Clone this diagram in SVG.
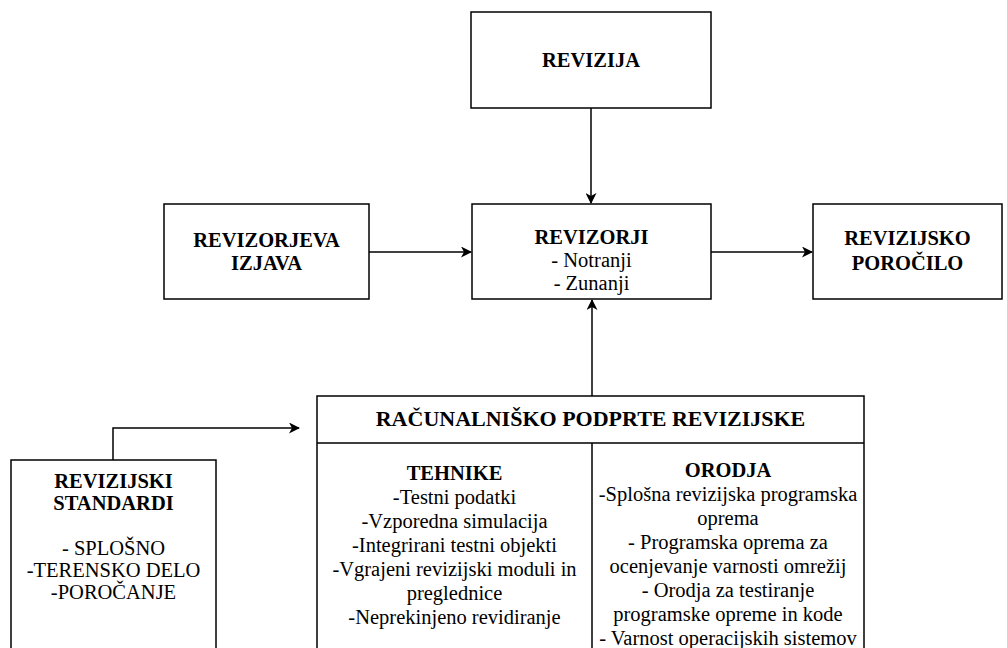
<svg xmlns="http://www.w3.org/2000/svg" width="1007" height="648" viewBox="0 0 1007 648" font-family="Liberation Serif, DejaVu Serif, serif">
<defs>
<style>
.box{fill:#fff;stroke:#000;stroke-width:1.5}
.ln{fill:none;stroke:#000;stroke-width:1.5}
text{font-family:"Liberation Serif","DejaVu Serif",serif;font-size:20.5px;fill:#000;text-anchor:middle}
.b{font-weight:bold}
.h{font-size:22px}
</style>
<marker id="ah" markerWidth="11" markerHeight="11" refX="10" refY="5.5" orient="auto" markerUnits="userSpaceOnUse">
<path d="M0,0 L11,5.5 L0,11 L3,5.5 Z" fill="#000"/>
</marker>
</defs>
<rect width="1007" height="648" fill="#fff"/>
<g id="connectors">
<path class="ln" d="M591,108 L591,203" marker-end="url(#ah)"/>
<path class="ln" d="M369,252 L471,252" marker-end="url(#ah)"/>
<path class="ln" d="M711,252 L812,252" marker-end="url(#ah)"/>
<path class="ln" d="M592,396 L592,300" marker-end="url(#ah)"/>
<path class="ln" d="M113,460 L113,428 L299,428" marker-end="url(#ah)"/>
</g>
<g id="revizija">
<rect class="box" x="471" y="12" width="240" height="96"/>
<text class="b" x="591" y="67">REVIZIJA</text>
</g>
<g id="revizorjeva-izjava">
<rect class="box" x="164" y="204" width="205" height="95"/>
<text class="b" x="266.5" y="247">REVIZORJEVA</text>
<text class="b" x="266.5" y="270">IZJAVA</text>
</g>
<g id="revizorji">
<rect class="box" x="472" y="204" width="239" height="95"/>
<text class="b" x="591.5" y="244">REVIZORJI</text>
<text x="591.5" y="267">- Notranji</text>
<text x="591.5" y="290">- Zunanji</text>
</g>
<g id="revizijsko-porocilo">
<rect class="box" x="813" y="204" width="189" height="95"/>
<text class="b" x="907.5" y="245">REVIZIJSKO</text>
<text class="b" x="907.5" y="270">POROČILO</text>
</g>
<g id="revizijski-standardi">
<rect class="box" x="11" y="460" width="205" height="200"/>
<text class="b" x="113.5" y="488">REVIZIJSKI</text>
<text class="b" x="113.5" y="510">STANDARDI</text>
<text x="113.5" y="555">- SPLOŠNO</text>
<text x="113.5" y="577">-TERENSKO DELO</text>
<text x="113.5" y="599">-POROČANJE</text>
</g>
<g id="racunalnisko-podprte">
<rect class="box" x="317" y="396" width="547" height="270"/>
<path class="ln" d="M317,443 L864,443 M592,443 L592,660"/>
<text class="b h" x="590.5" y="426">RAČUNALNIŠKO PODPRTE REVIZIJSKE</text>
</g>
<g id="tehnike">
<text class="b" x="454.5" y="480">TEHNIKE</text>
<text x="454.5" y="504">-Testni podatki</text>
<text x="454.5" y="528">-Vzporedna simulacija</text>
<text x="454.5" y="552">-Integrirani testni objekti</text>
<text x="454.5" y="576">-Vgrajeni revizijski moduli in</text>
<text x="454.5" y="600">preglednice</text>
<text x="454.5" y="624">-Neprekinjeno revidiranje</text>
</g>
<g id="orodja">
<text class="b" x="728" y="477">ORODJA</text>
<text x="728" y="501">-Splošna revizijska programska</text>
<text x="728" y="525">oprema</text>
<text x="728" y="549">- Programska oprema za</text>
<text x="728" y="573">ocenjevanje varnosti omrežij</text>
<text x="728" y="597">- Orodja za testiranje</text>
<text x="728" y="621">programske opreme in kode</text>
<text x="728" y="645">- Varnost operacijskih sistemov</text>
</g>
</svg>
